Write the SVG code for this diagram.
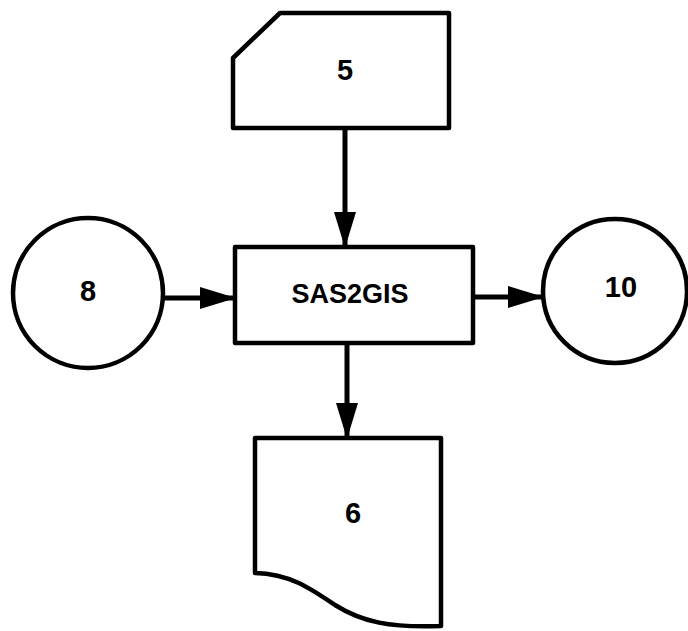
<svg xmlns="http://www.w3.org/2000/svg" width="688" height="631" viewBox="0 0 688 631">
<defs>
<style>
.shape{fill:#fff;stroke:#000;stroke-width:4.5;stroke-linejoin:round}
.conn{stroke:#000;stroke-width:5;fill:none}
.lbl{font-family:"Liberation Sans",Arial,sans-serif;font-weight:bold;font-size:29px;text-anchor:middle;fill:#000}
</style>
<marker id="ah" markerUnits="userSpaceOnUse" markerWidth="36" markerHeight="26" refX="35" refY="13" orient="auto">
<path d="M0,2 L36,13 L0,24 Z" fill="#000"/>
</marker>
</defs>
<rect width="688" height="631" fill="#fff"/>
<g id="connectors">
<line class="conn" x1="345" y1="128" x2="345" y2="247" marker-end="url(#ah)"/>
<line class="conn" x1="163" y1="298" x2="235" y2="298" marker-end="url(#ah)"/>
<line class="conn" x1="473" y1="297" x2="543" y2="297" marker-end="url(#ah)"/>
<line class="conn" x1="347" y1="343" x2="347" y2="438" marker-end="url(#ah)"/>
</g>
<g id="node5">
<path class="shape" d="M280,13 L449,13 L449,128 L233,128 L233,58 Z"/>
<text class="lbl" x="345" y="80">5</text>
</g>
<g id="sas2gis">
<rect class="shape" x="235" y="247" width="238" height="96"/>
<text class="lbl" x="350" y="303" style="font-size:27px">SAS2GIS</text>
</g>
<g id="node8">
<circle class="shape" cx="88" cy="293" r="75"/>
<text class="lbl" x="88" y="301">8</text>
</g>
<g id="node10">
<circle class="shape" cx="615" cy="291" r="72"/>
<text class="lbl" x="621" y="297">10</text>
</g>
<g id="node6">
<path class="shape" d="M255,438 L441,438 L441,626 C390,628 362,622 335,605 C310,588 290,574 255,573 Z"/>
<text class="lbl" x="353" y="523">6</text>
</g>
</svg>
